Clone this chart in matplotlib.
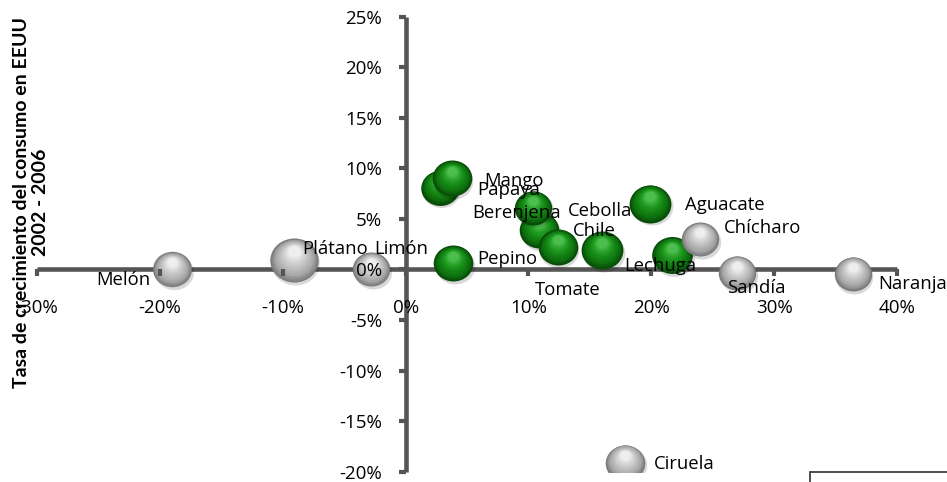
# Burbujas: crecimiento de exportaciones vs crecimiento del consumo en EEUU

import numpy as np
import matplotlib
matplotlib.use("Agg")
import matplotlib.pyplot as plt
from matplotlib.path import Path
from matplotlib.markers import MarkerStyle
from matplotlib.transforms import Affine2D, ScaledTranslation
from matplotlib.ticker import PercentFormatter
from matplotlib import patches, colors as mcolors

# datos
productos = ["Melón", "Plátano", "Limón", "Pepino", "Papaya", "Mango", "Berenjena", "Cebolla",
             "Tomate", "Chile", "Lechuga", "Aguacate", "Chícharo", "Sandía", "Naranja", "Ciruela"]
crec_x = [-19.0, -9.1, -2.8, 3.9, 2.8, 3.75, 10.9, 10.4, 12.4, 16.0, 21.7, 19.9, 24.0, 27.0, 36.4, 17.9]
crec_y = [0.0, 0.9, 0.0, 0.6, 8.1, 9.0, 3.9, 6.1, 2.2, 1.9, 1.4, 6.5, 3.0, -0.35, -0.45, -19.1]
tamano = [313, 484, 289, 324, 306, 324, 324, 289, 324, 361, 342, 361, 289, 289, 289, 324]
grupo = ["gris", "gris", "gris", "verde", "verde", "verde", "verde", "verde",
         "verde", "verde", "verde", "verde", "gris", "gris", "gris", "gris"]

# posicion de las etiquetas (px respecto al centro de la burbuja)
etiq_dx = [-76, 8, 3, 24, 37, 33, -67, 35, -23, -29, -48, 35, 23, -10, 25, 28]
etiq_dy = [-11, 11, 20, 4, -2, -3, 17, -3, -43, 19, -11, -1, 11, -15, -10, -1]

x_ticks = np.arange(-30, 41, 10)
y_ticks = np.arange(-20, 26, 5)

paletas = {
    "verde": ["#084a08", "#0f730f", "#148714", "#25a025", "#4dbd4d"],
    "gris": ["#7a7a7a", "#a6a6a6", "#bcbcbc", "#d3d3d3", "#eeeeee"],
}

plt.rcParams["font.family"] = ["Open Sans", "DejaVu Sans"]
plt.rcParams["axes.unicode_minus"] = False

fig = plt.figure(figsize=(9.47, 4.82), dpi=100)
W, H = 947, 482
ax = fig.add_axes([37 / W, 1 - 471.7 / H, 860 / W, 455 / H])
ax.set_xlim(-30, 40)
ax.set_ylim(-20, 25)

gris_eje = "#555555"
for lado in ["top", "right"]:
    ax.spines[lado].set_visible(False)
for lado in ["left", "bottom"]:
    ax.spines[lado].set_position(("data", 0))
    ax.spines[lado].set_linewidth(3.3)
    ax.spines[lado].set_color(gris_eje)
    ax.spines[lado].set_zorder(1)
    ax.spines[lado].set_capstyle("butt")

ax.set_xticks(x_ticks)
ax.set_yticks(y_ticks)
ax.xaxis.set_major_formatter(PercentFormatter(decimals=0))
ax.yaxis.set_major_formatter(PercentFormatter(decimals=0))
ax.tick_params(axis="x", direction="out", length=5, width=3, color=gris_eje, pad=16, labelsize=13.5)
ax.tick_params(axis="y", direction="out", length=5, width=3, color=gris_eje, pad=12, labelsize=13.5)
ax.xaxis.set_zorder(5)
ax.yaxis.set_zorder(5)
ax.patch.set_alpha(0)

# marcador eliptico (la imagen esta algo estirada en horizontal)
elipse = Path.unit_circle().transformed(Affine2D().scale(1.1, 1.0))
marca = MarkerStyle(elipse)

px = 72 / fig.dpi


def desplazado(dx, dy):
    return ax.transData + ScaledTranslation(dx / fig.dpi, dy / fig.dpi, fig.dpi_scale_trans)


for i in range(len(productos)):
    x, y = crec_x[i], crec_y[i]
    r = np.sqrt(tamano[i])  # radio horizontal en px
    s = (2 * r * 1.1 * px) ** 2
    pal = paletas[grupo[i]]
    z = 2 + i * 0.01
    # sombra
    ax.scatter([x], [y], s=s, marker=marca, color="black", alpha=0.15, lw=0,
               transform=desplazado(1.5, -2.5), zorder=z)
    # cuerpo con degradado
    cmap = mcolors.LinearSegmentedColormap.from_list("b", pal)
    n = 14
    for k in range(n):
        f = 1 - 0.8 * k / n
        dy = r * (1 - f) * 0.55
        ax.scatter([x], [y], s=s * f ** 2, marker=marca, color=cmap(k / (n - 1)), lw=0,
                   transform=desplazado(0, dy), zorder=z)
    ax.annotate(productos[i], (x, y), xytext=(etiq_dx[i] * px, etiq_dy[i] * px),
                textcoords="offset points", ha="left", va="center", fontsize=13.3,
                color="black", zorder=10)

fig.text(31 / W, 1 - 202 / H, "Tasa de crecimiento del consumo en EEUU\n2002 - 2006",
         rotation=90, ha="center", va="center", multialignment="center",
         fontsize=14, fontweight="bold", family=["Lato", "DejaVu Sans"], linespacing=1.15)

# recuadro recortado abajo a la derecha
fig.add_artist(patches.Rectangle((810 / W, -0.1), 0.5, 0.1 + 10 / H, transform=fig.transFigure,
                                 fill=False, edgecolor="#404040", lw=1.3))

fig.savefig("out.png", dpi=100)
